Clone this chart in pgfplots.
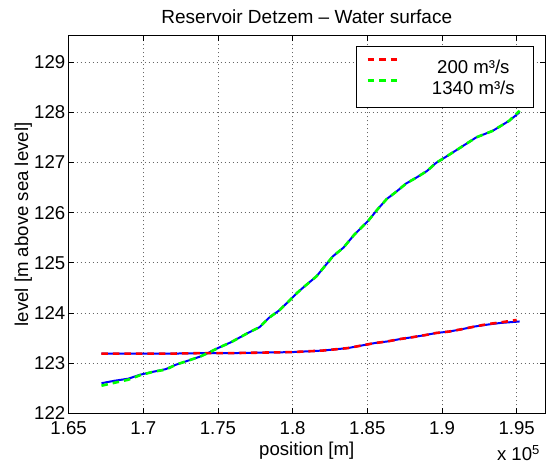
\documentclass[border=0pt]{standalone}
\usepackage{pgfplots}
\pgfplotsset{compat=1.18}
\usepackage{pgfplotstable}
\usepackage{fontspec}
\setmainfont{Liberation Sans}

% 200 m3/s : dashed (red) and solid (blue)
\pgfplotstableread{
x y
167200 123.19
170000 123.19
172000 123.19
174000 123.20
176000 123.20
178000 123.21
180000 123.22
182000 123.25
183700 123.30
184600 123.35
185500 123.40
186300 123.43
187200 123.48
188100 123.52
188900 123.56
189600 123.60
190500 123.63
191400 123.68
192200 123.73
193100 123.78
193900 123.81
195000 123.86
}\lowred
\pgfplotstableread{
x y
167200 123.19
170000 123.19
172000 123.19
174000 123.20
176000 123.20
178000 123.21
180000 123.22
182000 123.25
183700 123.30
184600 123.35
185500 123.40
186300 123.43
187200 123.48
188100 123.52
188900 123.56
189600 123.60
190500 123.63
191400 123.68
192200 123.73
193100 123.77
193900 123.80
195200 123.83
}\lowblue
% 1340 m3/s : dashed (green) and solid (blue)
\pgfplotstableread{
x y
167200 122.55
168100 122.61
169000 122.67
169800 122.76
170700 122.83
171500 122.87
172200 122.97
173000 123.05
173800 123.13
174400 123.21
175000 123.30
175900 123.42
177000 123.60
177800 123.72
178400 123.90
179100 124.05
179800 124.25
180300 124.40
180800 124.53
181600 124.73
182700 125.13
183400 125.30
184100 125.55
184600 125.70
185100 125.85
185700 126.07
186300 126.27
187000 126.43
187600 126.58
188300 126.70
189000 126.83
189600 126.99
190200 127.10
191100 127.27
192300 127.50
193400 127.63
194500 127.83
195200 128.03
}\highgreen
\pgfplotstableread{
x y
167200 122.60
168100 122.65
169000 122.69
169800 122.77
170700 122.83
171500 122.88
172200 122.97
173000 123.05
173800 123.13
174400 123.21
175000 123.30
175900 123.42
177000 123.60
177800 123.72
178400 123.90
179100 124.05
179800 124.25
180300 124.40
180800 124.53
181600 124.73
182700 125.13
183400 125.30
184100 125.55
184600 125.70
185100 125.85
185700 126.07
186300 126.27
187000 126.43
187600 126.58
188300 126.70
189000 126.83
189600 126.99
190200 127.10
191100 127.27
192300 127.50
193400 127.63
194500 127.83
195200 128.00
}\highblue

\begin{document}
\fontsize{18.6bp}{22bp}\selectfont
\begin{tikzpicture}
\useasboundingbox (-68.6bp,-50.7bp) rectangle (483.4bp,413.3bp);
\begin{axis}[
  at={(0,0)}, anchor=south west,
  scale only axis, width=476.4bp, height=377.8bp,
  xmin=165000, xmax=196900, ymin=122, ymax=129.53,
  scaled x ticks=false,
  xtick={165000,170000,175000,180000,185000,190000,195000},
  xticklabels={1.65,1.7,1.75,1.8,1.85,1.9,1.95},
  ytick={122,123,124,125,126,127,128,129},
  yticklabels={122,123,124,125,126,127,128,129},
  tick align=inside, major tick length=5bp,
  tick style={black, line width=0.6bp},
  grid=major,
  major grid style={black!60, line width=0.7bp, dash pattern=on 0.8bp off 3.2bp},
  axis line style={black, line width=0.8bp},
  xticklabel style={yshift=-2bp},
  yticklabel style={xshift=3bp},
  legend style={at={(0.9769,0.973)}, anchor=north east, draw=black,
    line width=0.8bp, fill=white, inner xsep=10.25bp, inner ysep=9.35bp,
    column sep=22.5bp, row sep=0bp, nodes={inner sep=0bp}},
  legend image code/.code={\draw[#1] (0bp,6.6bp) -- (32bp,6.6bp);},
]
\addplot[blue, line width=2bp, forget plot] table {\lowblue};
\addplot[blue, line width=2bp, forget plot] table {\highblue};
\addplot[red, line width=2.6bp, dash pattern=on 6.5bp off 5bp] table {\lowred};
\addlegendentry{\makebox[100bp]{\rule[-5bp]{0pt}{23.3bp}200 m³/s}}
\addplot[green, line width=2.6bp, dash pattern=on 6.5bp off 5bp] table {\highgreen};
\addlegendentry{\makebox[100bp]{\rule[-5bp]{0pt}{23.3bp}1340 m³/s}}
\end{axis}
\node[anchor=base, font=\fontsize{19bp}{22bp}\selectfont] at (238.2bp,390bp) {Reservoir Detzem – Water surface};
\node[anchor=base] at (238.2bp,-41.7bp) {position [m]};
\node[anchor=base, rotate=90] at (-40.6bp,188.9bp) {level [m above sea level]};
\node[anchor=base east, inner sep=0pt] at (471.5bp,-47.5bp) {x 10\textsuperscript{5}};
\end{tikzpicture}
\end{document}
